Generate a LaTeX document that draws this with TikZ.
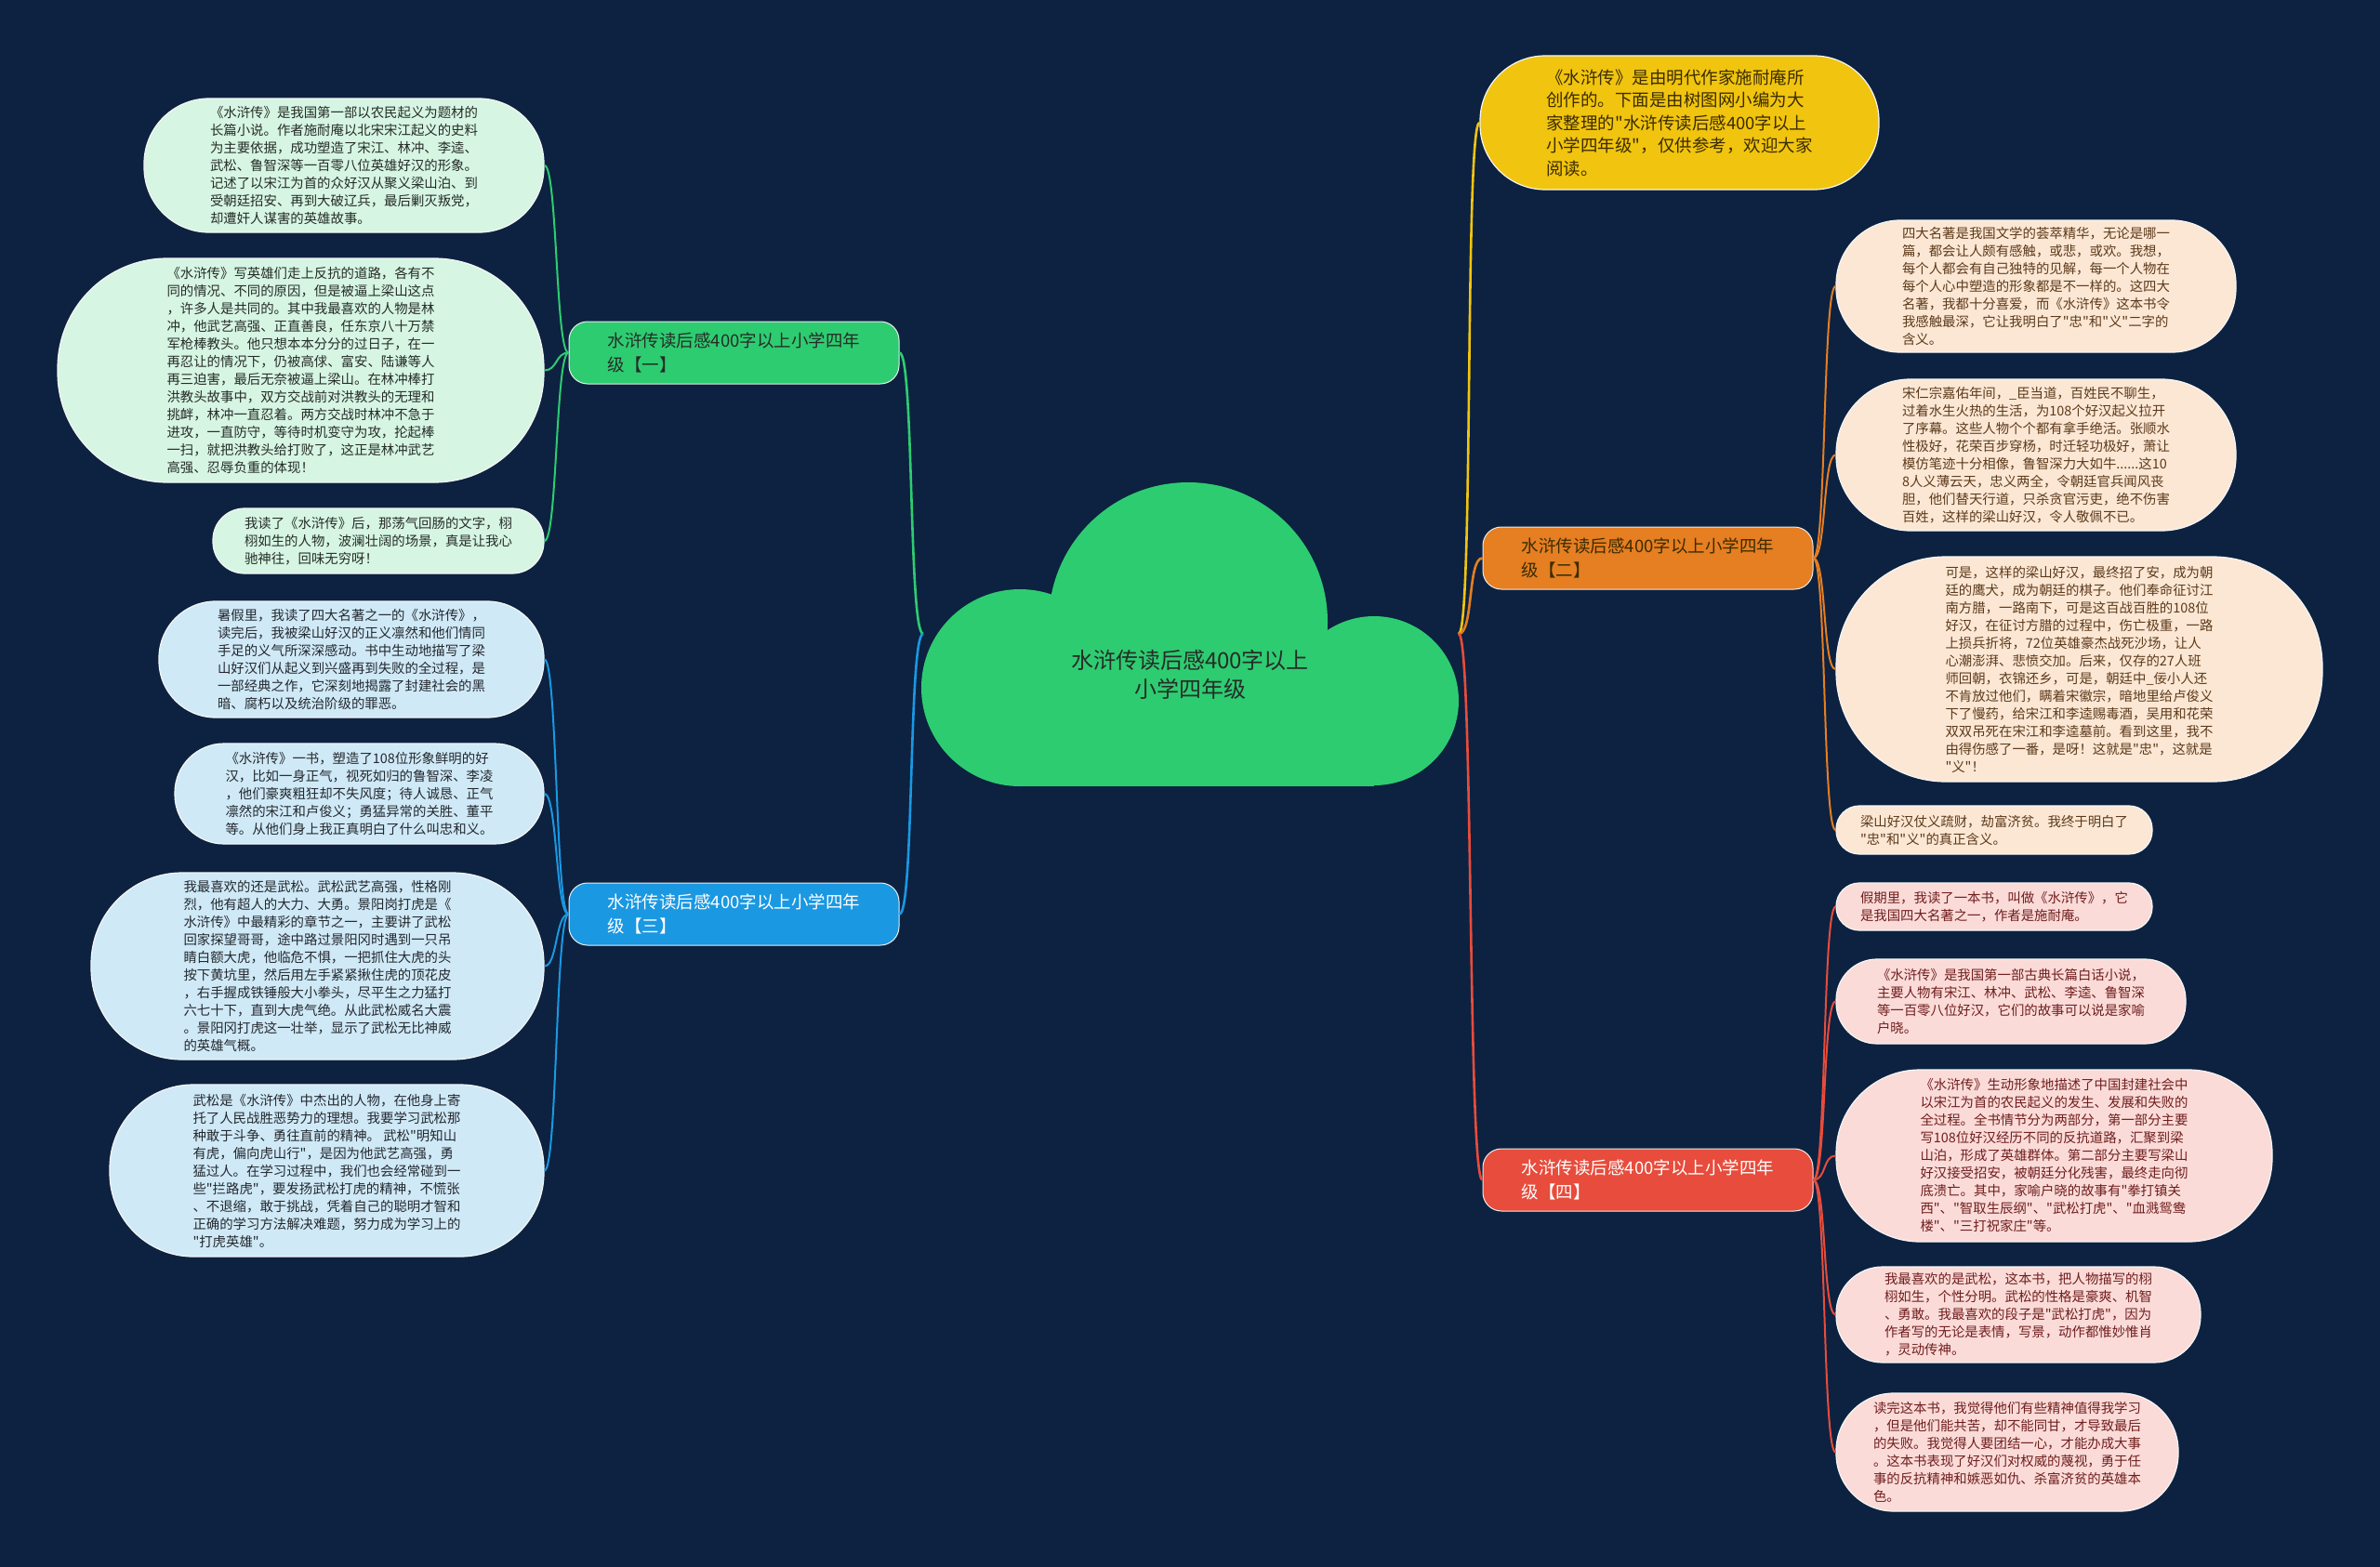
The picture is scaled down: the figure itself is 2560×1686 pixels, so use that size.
\documentclass[tikz,border=0pt]{standalone}
\usepackage{fontspec}
\setmainfont{Noto Sans CJK SC}[Ligatures=TeXOff]
\definecolor{bg}{RGB}{12,34,64}
\definecolor{cloudc}{RGB}{46,204,113}
\definecolor{gfill}{RGB}{214,245,227}
\definecolor{bfill}{RGB}{207,233,247}
\definecolor{pfill}{RGB}{252,231,213}
\definecolor{rfill}{RGB}{250,219,216}
\definecolor{yfill}{RGB}{241,196,15}
\definecolor{gtext}{RGB}{38,44,40}
\definecolor{btext}{RGB}{36,40,46}
\definecolor{ptext}{RGB}{92,58,26}
\definecolor{rtext}{RGB}{112,30,30}
\definecolor{ytext}{RGB}{58,44,0}
\definecolor{gline}{RGB}{46,204,113}
\definecolor{bline}{RGB}{26,152,226}
\definecolor{oline}{RGB}{230,126,34}
\definecolor{rline}{RGB}{231,76,60}
\definecolor{yline}{RGB}{241,196,15}
\begin{document}
\begin{tikzpicture}[x=1pt,y=-1pt,
  leaf/.style={inner sep=0pt, align=left, line width=1.2pt, draw=white!92!gray,
     font=\fontsize{14.4}{19}\selectfont},
  gleaf/.style={leaf, fill=gfill, text=gtext},
  bleaf/.style={leaf, fill=bfill, text=btext},
  pleaf/.style={leaf, fill=pfill, text=ptext},
  rleaf/.style={leaf, fill=rfill, text=rtext},
  sz/.style n args={3}{minimum width=#1, minimum height=#2, rounded corners=#3},
  branch/.style={inner sep=0pt, align=left, minimum width=355, minimum height=67,
     rounded corners=20, draw=white!85!gray, line width=1pt,
     font=\fontsize{18.5}{26}\selectfont},
  mainline/.style={line width=2.6pt},
  leafline/.style={line width=2pt},
]
\fill[bg] (0,0) rectangle (2560,1686);
\useasboundingbox (0,0) rectangle (2560,1686);

% cloud
\fill[cloudc] (1278,669) circle[radius=150pt];
\fill[cloudc] (1097,740) circle[radius=106pt];
\fill[cloudc] (1478,754) circle[radius=91pt];
\fill[cloudc] (1097,740) rectangle (1478,846);
\node[text=gtext, align=center, font=\fontsize{24}{31}\selectfont] (center) at (1280,726)
  {水浒传读后感400字以上\\小学四年级};
\coordinate (cL) at (993,682);
\coordinate (cR) at (1569,682);

% branches
\node[branch, fill=cloudc, text=gtext] (b1) at (789.5,379.5) {水浒传读后感400字以上小学四年\\级【一】};
\node[branch, fill=oline, text=ytext] (b2) at (1772.5,600.5) {水浒传读后感400字以上小学四年\\级【二】};
\node[branch, fill=bline, text=white] (b3) at (789.5,983.5) {水浒传读后感400字以上小学四年\\级【三】};
\node[branch, fill=rline, text=white] (b4) at (1772.5,1269.5) {水浒传读后感400字以上小学四年\\级【四】};

% top yellow
\node[leaf, fill=yfill, text=ytext, sz={429}{144}{70}, font=\fontsize{18.5}{24.5}\selectfont] (r0) at (1806.5,132)
 {《水浒传》是由明代作家施耐庵所\\创作的。下面是由树图网小编为大\\家整理的"水浒传读后感400字以上\\小学四年级"，仅供参考，欢迎大家\\阅读。};

% left branch 1 leaves
\node[gleaf, sz={430}{144}{70}] (l1) at (370,178)
 {《水浒传》是我国第一部以农民起义为题材的\\长篇小说。作者施耐庵以北宋宋江起义的史料\\为主要依据，成功塑造了宋江、林冲、李逵、\\武松、鲁智深等一百零八位英雄好汉的形象。\\记述了以宋江为首的众好汉从聚义梁山泊、到\\受朝廷招安、再到大破辽兵，最后剿灭叛党，\\却遭奸人谋害的英雄故事。};
\node[gleaf, sz={523}{241}{118}] (l2) at (323.5,398.5)
 {《水浒传》写英雄们走上反抗的道路，各有不\\同的情况、不同的原因，但是被逼上梁山这点\\，许多人是共同的。其中我最喜欢的人物是林\\冲，他武艺高强、正直善良，任东京八十万禁\\军枪棒教头。他只想本本分分的过日子，在一\\再忍让的情况下，仍被高俅、富安、陆谦等人\\再三迫害，最后无奈被逼上梁山。在林冲棒打\\洪教头故事中，双方交战前对洪教头的无理和\\挑衅，林冲一直忍着。两方交战时林冲不急于\\进攻，一直防守，等待时机变守为攻，抡起棒\\一扫，就把洪教头给打败了，这正是林冲武艺\\高强、忍辱负重的体现！};
\node[gleaf, sz={356}{70}{34}] (l3) at (407,582)
 {我读了《水浒传》后，那荡气回肠的文字，栩\\栩如生的人物，波澜壮阔的场景，真是让我心\\驰神往，回味无穷呀！};

% left branch 3 leaves
\node[bleaf, sz={414}{125}{61}] (l4) at (378,709.5)
 {暑假里，我读了四大名著之一的《水浒传》，\\读完后，我被梁山好汉的正义凛然和他们情同\\手足的义气所深深感动。书中生动地描写了梁\\山好汉们从起义到兴盛再到失败的全过程，是\\一部经典之作，它深刻地揭露了封建社会的黑\\暗、腐朽以及统治阶级的罪恶。};
\node[bleaf, sz={397}{108}{53}] (l5) at (386.5,854)
 {《水浒传》一书，塑造了108位形象鲜明的好\\汉，比如一身正气，视死如归的鲁智深、李凌\\，他们豪爽粗狂却不失风度；待人诚恳、正气\\凛然的宋江和卢俊义；勇猛异常的关胜、董平\\等。从他们身上我正真明白了什么叫忠和义。};
\node[bleaf, sz={487}{201}{98}] (l6) at (341.5,1039.5)
 {我最喜欢的还是武松。武松武艺高强，性格刚\\烈，他有超人的大力、大勇。景阳岗打虎是《\\水浒传》中最精彩的章节之一，主要讲了武松\\回家探望哥哥，途中路过景阳冈时遇到一只吊\\睛白额大虎，他临危不惧，一把抓住大虎的头\\按下黄坑里，然后用左手紧紧揪住虎的顶花皮\\，右手握成铁锤般大小拳头，尽平生之力猛打\\六七十下，直到大虎气绝。从此武松威名大震\\。景阳冈打虎这一壮举，显示了武松无比神威\\的英雄气概。};
\node[bleaf, sz={467}{185}{90}] (l7) at (351.5,1259.5)
 {武松是《水浒传》中杰出的人物，在他身上寄\\托了人民战胜恶势力的理想。我要学习武松那\\种敢于斗争、勇往直前的精神。 武松"明知山\\有虎，偏向虎山行"，是因为他武艺高强，勇\\猛过人。在学习过程中，我们也会经常碰到一\\些"拦路虎"，要发扬武松打虎的精神，不慌张\\、不退缩，敢于挑战，凭着自己的聪明才智和\\正确的学习方法解决难题，努力成为学习上的\\"打虎英雄"。};

% right branch 2 leaves
\node[pleaf, sz={430}{142}{69}] (r1) at (2190,308)
 {四大名著是我国文学的荟萃精华，无论是哪一\\篇，都会让人颇有感触，或悲，或欢。我想，\\每个人都会有自己独特的见解，每一个人物在\\每个人心中塑造的形象都是不一样的。这四大\\名著，我都十分喜爱，而《水浒传》这本书令\\我感触最深，它让我明白了"忠"和"义"二字的\\含义。};
\node[pleaf, sz={430}{163}{80}] (r2) at (2190,489.5)
 {宋仁宗嘉佑年间，\_臣当道，百姓民不聊生，\\过着水生火热的生活，为108个好汉起义拉开\\了序幕。这些人物个个都有拿手绝活。张顺水\\性极好，花荣百步穿杨，时迁轻功极好，萧让\\模仿笔迹十分相像，鲁智深力大如牛......这10\\8人义薄云天，忠义两全，令朝廷官兵闻风丧\\胆，他们替天行道，只杀贪官污吏，绝不伤害\\百姓，这样的梁山好汉，令人敬佩不已。};
\node[pleaf, sz={523}{242}{118}] (r3) at (2236.5,720)
 {可是，这样的梁山好汉，最终招了安，成为朝\\廷的鹰犬，成为朝廷的棋子。他们奉命征讨江\\南方腊，一路南下，可是这百战百胜的108位\\好汉，在征讨方腊的过程中，伤亡极重，一路\\上损兵折将，72位英雄豪杰战死沙场，让人\\心潮澎湃、悲愤交加。后来，仅存的27人班\\师回朝，衣锦还乡，可是，朝廷中\_佞小人还\\不肯放过他们，瞒着宋徽宗，暗地里给卢俊义\\下了慢药，给宋江和李逵赐毒酒，吴用和花荣\\双双吊死在宋江和李逵墓前。看到这里，我不\\由得伤感了一番，是呀！这就是"忠"，这就是\\"义"！};
\node[pleaf, sz={340}{52}{25}] (r4) at (2145,893)
 {梁山好汉仗义疏财，劫富济贫。我终于明白了\\"忠"和"义"的真正含义。};

% right branch 4 leaves
\node[rleaf, sz={340}{51}{25}] (r5) at (2145,975.5)
 {假期里，我读了一本书，叫做《水浒传》，它\\是我国四大名著之一，作者是施耐庵。};
\node[rleaf, sz={376}{91}{44}] (r6) at (2163,1077.5)
 {《水浒传》是我国第一部古典长篇白话小说，\\主要人物有宋江、林冲、武松、李逵、鲁智深\\等一百零八位好汉，它们的故事可以说是家喻\\户晓。};
\node[rleaf, sz={469}{185}{90}] (r7) at (2209.5,1243.5)
 {《水浒传》生动形象地描述了中国封建社会中\\以宋江为首的农民起义的发生、发展和失败的\\全过程。全书情节分为两部分，第一部分主要\\写108位好汉经历不同的反抗道路，汇聚到梁\\山泊，形成了英雄群体。第二部分主要写梁山\\好汉接受招安，被朝廷分化残害，最终走向彻\\底溃亡。其中，家喻户晓的故事有"拳打镇关\\西"、"智取生辰纲"、"武松打虎"、"血溅鸳鸯\\楼"、"三打祝家庄"等。};
\node[rleaf, sz={392}{103}{50}] (r8) at (2171,1414.5)
 {我最喜欢的是武松，这本书，把人物描写的栩\\栩如生，个性分明。武松的性格是豪爽、机智\\、勇敢。我最喜欢的段子是"武松打虎"，因为\\作者写的无论是表情，写景，动作都惟妙惟肖\\，灵动传神。};
\node[rleaf, sz={368}{127}{62}] (r9) at (2159,1562.5)
 {读完这本书，我觉得他们有些精神值得我学习\\，但是他们能共苦，却不能同甘，才导致最后\\的失败。我觉得人要团结一心，才能办成大事\\。这本书表现了好汉们对权威的蔑视，勇于任\\事的反抗精神和嫉恶如仇、杀富济贫的英雄本\\色。};

% connectors: center to branches
\draw[mainline, gline] (cL) .. controls +(-16,0) and +(16,0) .. (b1.east);
\draw[mainline, bline] (cL) .. controls +(-16,0) and +(16,0) .. (b3.east);
\draw[mainline, yline] (cR) .. controls +(16,0) and +(-16,0) .. (r0.west);
\draw[mainline, oline] (cR) .. controls +(16,0) and +(-16,0) .. (b2.west);
\draw[mainline, rline] (cR) .. controls +(16,0) and +(-16,0) .. (b4.west);

% connectors: branches to leaves
\foreach \l in {l1,l2,l3}
  \draw[leafline, gline] (b1.west) .. controls +(-14,0) and +(14,0) .. (\l.east);
\foreach \l in {l4,l5,l6,l7}
  \draw[leafline, bline] (b3.west) .. controls +(-14,0) and +(14,0) .. (\l.east);
\foreach \l in {r1,r2,r3,r4}
  \draw[leafline, oline] (b2.east) .. controls +(14,0) and +(-14,0) .. (\l.west);
\foreach \l in {r5,r6,r7,r8,r9}
  \draw[leafline, rline] (b4.east) .. controls +(14,0) and +(-14,0) .. (\l.west);
\end{tikzpicture}
\end{document}
